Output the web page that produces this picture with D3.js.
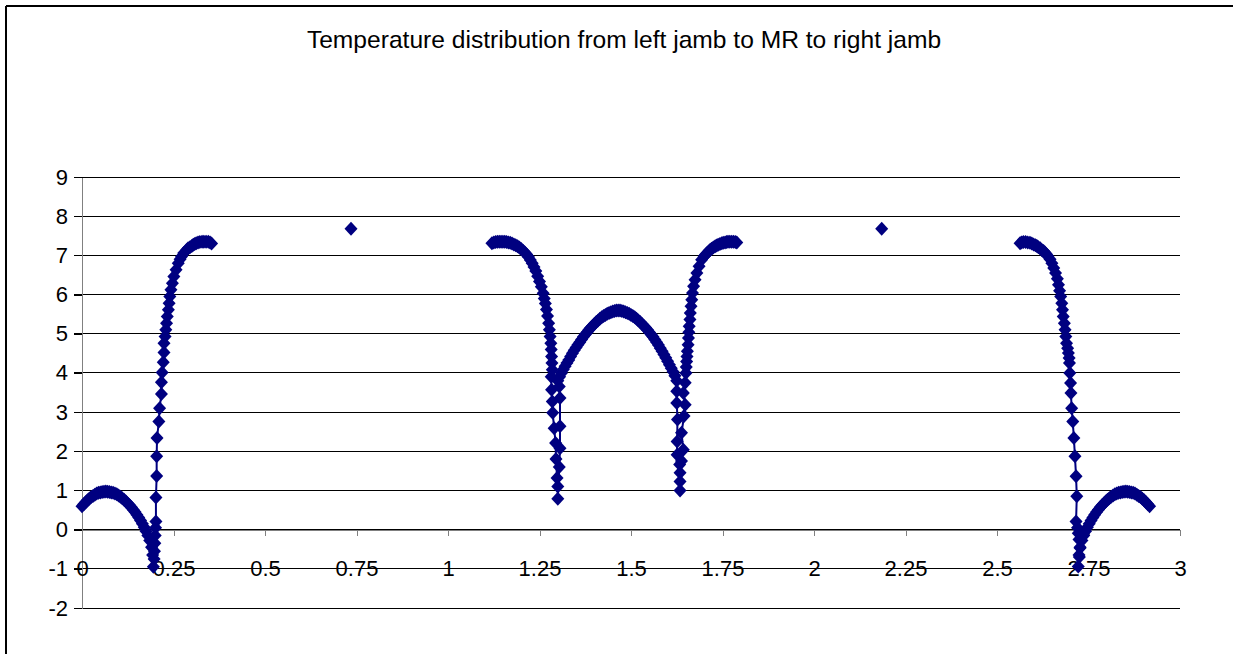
<!DOCTYPE html>
<html>
<head>
<meta charset="utf-8">
<script src="https://cdn.jsdelivr.net/npm/d3@7"></script>
<style>
  body { margin: 0; background: #fff; overflow: hidden; }
  svg { display: block; font-family: "Liberation Sans", Arial, sans-serif; }
</style>
</head>
<body>
<svg id="chart" width="1233" height="654"></svg>
<script>
var title = "Temperature distribution from left jamb to MR to right jamb";

var xTicks = [0, 0.25, 0.5, 0.75, 1, 1.25, 1.5, 1.75, 2, 2.25, 2.5, 2.75, 3];
var yTicks = [-2, -1, 0, 1, 2, 3, 4, 5, 6, 7, 8, 9];

// left jamb: hump, dip to -1, steep rise to 7.3
var leftJambX = [0, 0.005, 0.01, 0.015, 0.02, 0.025, 0.03, 0.035, 0.04, 0.045, 0.05, 0.055, 0.06, 0.065,
  0.07, 0.075, 0.08, 0.085, 0.09, 0.095, 0.1, 0.105, 0.11, 0.115, 0.12, 0.125, 0.13, 0.135, 0.14, 0.145,
  0.15, 0.155, 0.16, 0.165, 0.17, 0.175, 0.18, 0.185, 0.19, 0.193, 0.195,
  0.197, 0.198, 0.199, 0.2, 0.201, 0.202, 0.202, 0.204, 0.204, 0.205, 0.21, 0.212, 0.217, 0.217,
  0.219, 0.222, 0.224, 0.224, 0.227, 0.229, 0.231, 0.233, 0.236, 0.238, 0.24, 0.243, 0.247, 0.251,
  0.257, 0.263, 0.268, 0.272, 0.278, 0.286, 0.29, 0.295, 0.3, 0.304, 0.308, 0.312, 0.317, 0.322,
  0.328, 0.333, 0.339, 0.345, 0.35, 0.354];
var leftJambY = [0.6, 0.65, 0.7, 0.75, 0.79, 0.83, 0.86, 0.89, 0.92, 0.94, 0.95, 0.96, 0.97, 0.975,
  0.97, 0.96, 0.95, 0.94, 0.92, 0.9, 0.87, 0.84, 0.8, 0.76, 0.72, 0.67, 0.62, 0.57, 0.51, 0.45,
  0.38, 0.31, 0.23, 0.15, 0.06, -0.04, -0.15, -0.28, -0.45, -0.65, -0.95,
  -0.75, -0.55, -0.35, -0.15, 0.05, 0.21, 0.82, 1.37, 1.87, 2.34, 2.76, 3.1, 3.46, 3.76,
  4.01, 4.27, 4.52, 4.76, 4.93, 5.1, 5.27, 5.44, 5.61, 5.78, 5.95, 6.12, 6.29, 6.46,
  6.63, 6.8, 6.9, 6.97, 7.06, 7.14, 7.18, 7.21, 7.24, 7.27, 7.29, 7.31, 7.33, 7.34,
  7.35, 7.35, 7.35, 7.35, 7.33, 7.3];

// MR: fall, two dips and the arch between them, rise again
var mrX = [1.12, 1.125, 1.13, 1.135, 1.14, 1.145, 1.15, 1.155, 1.16, 1.165, 1.17, 1.175, 1.18, 1.185,
  1.19, 1.195, 1.20, 1.205, 1.21, 1.215, 1.22, 1.225, 1.23, 1.235, 1.24, 1.245,
  1.25, 1.255, 1.26, 1.263, 1.266, 1.269, 1.272, 1.275, 1.277, 1.279, 1.281, 1.282, 1.283, 1.284, 1.285,
  1.282, 1.283, 1.285, 1.286, 1.29, 1.294, 1.295, 1.298, 1.3, 1.3,
  1.304, 1.306, 1.306, 1.306, 1.304,
  1.30, 1.305, 1.31, 1.315, 1.32, 1.325, 1.33, 1.335, 1.34, 1.345, 1.35, 1.355, 1.36, 1.365, 1.37, 1.375,
  1.38, 1.385, 1.39, 1.395, 1.40, 1.405, 1.41, 1.415, 1.42, 1.425, 1.43, 1.435, 1.44, 1.445, 1.45, 1.455,
  1.46, 1.465, 1.47, 1.475, 1.48, 1.485, 1.49, 1.495, 1.50, 1.505, 1.51, 1.515, 1.52, 1.525, 1.53, 1.535,
  1.54, 1.545, 1.55, 1.555, 1.56, 1.565, 1.57, 1.575, 1.58, 1.585, 1.59, 1.595, 1.60, 1.605, 1.61, 1.615,
  1.62, 1.625,
  1.625, 1.625, 1.627, 1.626, 1.626, 1.633, 1.634, 1.634, 1.634,
  1.638, 1.643, 1.638, 1.645, 1.648, 1.643, 1.648,
  1.65, 1.651, 1.652, 1.653, 1.654, 1.656, 1.657, 1.658, 1.659, 1.661, 1.662, 1.664, 1.666, 1.668,
  1.671, 1.675, 1.68, 1.686, 1.693, 1.70, 1.704, 1.708, 1.712, 1.716, 1.72, 1.725, 1.73, 1.734, 1.738,
  1.743, 1.748, 1.752, 1.757, 1.761, 1.765, 1.77, 1.775, 1.78, 1.785, 1.789];
var mrY = [7.31, 7.33, 7.34, 7.35, 7.35, 7.35, 7.35, 7.35, 7.34, 7.33, 7.32, 7.3, 7.28, 7.26,
  7.23, 7.2, 7.16, 7.12, 7.07, 7.02, 6.96, 6.88, 6.8, 6.7, 6.6, 6.47,
  6.33, 6.2, 6.03, 5.9, 5.77, 5.62, 5.45, 5.27, 5.1, 4.93, 4.76, 4.6, 4.42, 4.25, 4.08,
  3.9, 3.57, 3.27, 2.98, 2.59, 2.21, 1.8, 1.32, 1.1, 0.79,
  1.6, 2.08, 2.64, 3.36, 3.65,
  3.8, 3.9, 4.0, 4.09, 4.17, 4.25, 4.33, 4.42, 4.5, 4.58, 4.65, 4.72, 4.78, 4.85, 4.92, 4.98,
  5.04, 5.1, 5.15, 5.2, 5.25, 5.3, 5.34, 5.38, 5.42, 5.45, 5.48, 5.51, 5.53, 5.55, 5.57, 5.58,
  5.59, 5.595, 5.59, 5.58, 5.57, 5.55, 5.53, 5.51, 5.48, 5.45, 5.42, 5.38, 5.34, 5.3, 5.25, 5.2,
  5.15, 5.1, 5.04, 4.98, 4.92, 4.85, 4.78, 4.71, 4.63, 4.55, 4.47, 4.39, 4.3, 4.21, 4.12, 4.03,
  3.93, 3.8,
  3.53, 3.23, 2.81, 2.25, 1.91, 1.66, 1.45, 1.23, 1.0,
  1.75, 2.04, 2.47, 2.9, 3.19, 3.49, 3.75,
  4.0, 4.15, 4.29, 4.42, 4.55, 4.72, 4.89, 5.04, 5.19, 5.36, 5.53, 5.7, 5.87, 6.04,
  6.21, 6.38, 6.55, 6.72, 6.89, 6.98, 7.02, 7.06, 7.1, 7.14, 7.17, 7.2, 7.23, 7.25, 7.27,
  7.29, 7.31, 7.32, 7.33, 7.34, 7.345, 7.35, 7.35, 7.35, 7.34, 7.33];

// right jamb: steep fall to -1, then hump
var rightJambX = [2.563, 2.567, 2.572, 2.578, 2.584, 2.59, 2.595, 2.6, 2.605, 2.609, 2.613, 2.618, 2.622,
  2.627, 2.631, 2.635, 2.639, 2.645, 2.65, 2.655, 2.66,
  2.665, 2.668, 2.671, 2.674, 2.677, 2.679, 2.681, 2.684, 2.686, 2.688, 2.69, 2.693, 2.695, 2.697, 2.698,
  2.699, 2.701, 2.702, 2.704, 2.707, 2.71, 2.713, 2.716, 2.718, 2.716, 2.72, 2.722, 2.724, 2.727, 2.725, 2.722,
  2.724, 2.727, 2.732, 2.737, 2.742, 2.747, 2.752, 2.757, 2.762, 2.767, 2.772, 2.777, 2.782, 2.787, 2.792,
  2.797, 2.802, 2.807, 2.812, 2.817, 2.822, 2.827, 2.832, 2.837, 2.842, 2.847, 2.852, 2.857, 2.862, 2.867,
  2.872, 2.877, 2.882, 2.887, 2.892, 2.897, 2.902, 2.907, 2.912, 2.917];
var rightJambY = [7.31, 7.33, 7.34, 7.34, 7.33, 7.32, 7.3, 7.28, 7.26, 7.24, 7.21, 7.18, 7.14,
  7.11, 7.07, 7.03, 6.98, 6.9, 6.8, 6.68, 6.55,
  6.4, 6.25, 6.1, 5.95, 5.78, 5.61, 5.44, 5.27, 5.1, 4.93, 4.76, 4.63, 4.51, 4.38, 4.25,
  4.0, 3.74, 3.49, 3.1, 2.76, 2.34, 1.87, 1.36, 0.85, 0.21, 0.05, -0.09, -0.25, -0.47, -0.7, -0.94,
  -0.65, -0.45, -0.28, -0.15, -0.04, 0.06, 0.15, 0.23, 0.31, 0.38, 0.45, 0.51, 0.57, 0.62, 0.67,
  0.72, 0.76, 0.8, 0.84, 0.87, 0.9, 0.92, 0.94, 0.95, 0.96, 0.97, 0.975, 0.97, 0.96, 0.95,
  0.94, 0.92, 0.89, 0.86, 0.83, 0.79, 0.75, 0.7, 0.65, 0.6];

// two single points between the jambs and MR
var loneX = [0.735, 2.185];
var loneY = [7.68, 7.68];

var navy = "#000080";
var svg = d3.select("#chart");

var x = d3.scaleLinear().domain([0, 3]).range([82, 1180]);
var y = d3.scaleLinear().domain([-2, 9]).range([608, 177]);

// chart area border: only left and top edges are inside the picture
svg.append("line").attr("x1", 6).attr("y1", 6).attr("x2", 6).attr("y2", 654)
  .attr("stroke", "#000").attr("stroke-width", 2);
svg.append("line").attr("x1", 6).attr("y1", 6).attr("x2", 1233).attr("y2", 6)
  .attr("stroke", "#000").attr("stroke-width", 2);

svg.append("text")
  .attr("x", 624).attr("y", 48)
  .attr("text-anchor", "middle")
  .style("font-size", "24.6px")
  .text(title);

// gridlines
svg.append("g").selectAll("line").data(yTicks).enter().append("line")
  .attr("x1", 74).attr("x2", 1180)
  .attr("y1", function(d) { return y(d); })
  .attr("y2", function(d) { return y(d); })
  .attr("stroke", "#000").attr("stroke-width", 1)
  .attr("shape-rendering", "crispEdges");

function plain(d) { return String(d); }

var yAxis = d3.axisLeft(y).tickValues(yTicks).tickSizeInner(8).tickSizeOuter(0).tickPadding(6)
  .tickFormat(plain);
var gy = svg.append("g").attr("transform", "translate(82,0)").call(yAxis);
gy.select(".domain").attr("stroke", "#808080").attr("shape-rendering", "crispEdges");
gy.selectAll(".tick line").attr("stroke", "#000").attr("shape-rendering", "crispEdges");
gy.selectAll("text").style("font-size", "22px").attr("fill", "#000")
  .style("font-family", "'Liberation Sans', Arial, sans-serif");

var xAxis = d3.axisBottom(x).tickValues(xTicks).tickSizeInner(6).tickSizeOuter(0).tickPadding(25)
  .tickFormat(plain);
var gx = svg.append("g").attr("transform", "translate(0," + y(0) + ")").call(xAxis);
gx.select(".domain").attr("stroke", "#808080").attr("shape-rendering", "crispEdges");
gx.selectAll(".tick line").attr("stroke", "#808080").attr("shape-rendering", "crispEdges");
gx.selectAll("text").style("font-size", "22px").attr("fill", "#000")
  .style("font-family", "'Liberation Sans', Arial, sans-serif");

function toPoints(xs, ys) {
  return xs.map(function(v, i) { return [v, ys[i]]; });
}

var segments = [
  toPoints(leftJambX, leftJambY),
  toPoints(mrX, mrY),
  toPoints(rightJambX, rightJambY)
];
var line = d3.line()
  .x(function(d) { return x(d[0]); })
  .y(function(d) { return y(d[1]); });

var plot = svg.append("g");
plot.selectAll("path.series").data(segments).enter().append("path")
  .attr("class", "series")
  .attr("d", line)
  .attr("fill", "none").attr("stroke", navy).attr("stroke-width", 2);

var allPoints = d3.merge(segments.concat([toPoints(loneX, loneY)]));
var diamond = "M0,-7L6.5,0L0,7L-6.5,0Z";
plot.selectAll("path.marker").data(allPoints).enter().append("path")
  .attr("class", "marker")
  .attr("d", diamond)
  .attr("transform", function(d) { return "translate(" + x(d[0]) + "," + y(d[1]) + ")"; })
  .attr("fill", navy);
</script>
</body>
</html>
